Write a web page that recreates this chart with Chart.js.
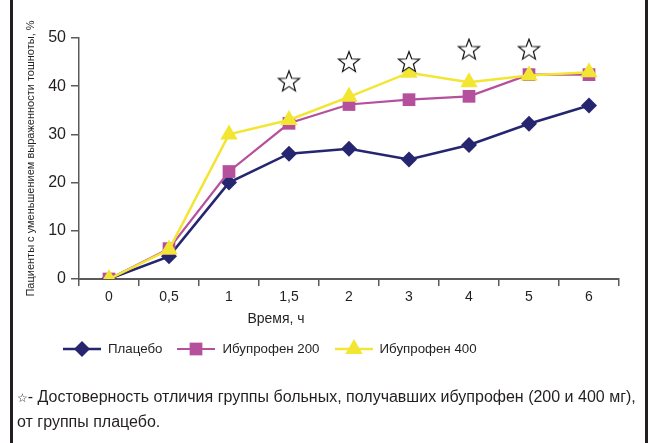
<!DOCTYPE html>
<html>
<head>
<meta charset="utf-8">
<script src="https://cdn.jsdelivr.net/npm/chart.js@4/dist/chart.umd.min.js"></script>
<style>
	body { margin: 0; background: #fff; }
	#wrap { position: relative; width: 649px; height: 443px; background: #fff; font-family: "Liberation Sans", Arial, sans-serif; color: #231f20; }
	.frame { position: absolute; top: 0; bottom: 0; width: 3px; background: #231f20; }
	#xtitle { position: absolute; left: 226px; width: 100px; top: 310px; text-align: center; font-size: 14px; }
	#legend { position: absolute; left: 63px; top: 337px; display: flex; align-items: center; font-size: 13.3px; }
	#legend .item { display: flex; align-items: center; margin-right: 15px; }
	#legend canvas { margin-right: 7px; }
	#note { position: absolute; left: 17px; top: 385px; font-size: 16px; line-height: 23px; }
	#note .star { font-size: 12px; font-family: "DejaVu Sans", sans-serif; }
</style>
</head>
<body>
<div id="wrap">
	<canvas id="chart"></canvas>
	<div class="frame" style="left:10px"></div>
	<div class="frame" style="left:645px"></div>
	<div id="xtitle">Время, ч</div>
	<div id="legend"></div>
	<div id="note"><span class="star">☆</span>- Достоверность отличия группы больных, получавших ибупрофен (200 и 400 мг),<br>от группы плацебо.</div>
</div>
<script>
const TIME_LABELS = ['0', '0,5', '1', '1,5', '2', '3', '4', '5', '6']

const PLACEBO = [0, 4.7, 20, 26, 27, 24.8, 27.8, 32.2, 36]
const IBUPROFEN_200 = [0, 6.3, 22.3, 32.3, 36.2, 37.2, 37.9, 42.4, 42.4]
const IBUPROFEN_400 = [0, 6.1, 30, 33, 37.8, 42.8, 40.8, 42.2, 42.9]
// stars: significant difference vs placebo
const SIGNIFICANT = [null, null, null, 41, 45, 45, 47.6, 47.6, null]

const SERIES_NAMES = ['Плацебо', 'Ибупрофен 200', 'Ибупрофен 400']
const Y_TITLE = 'Пациенты с уменьшением выраженности тошноты, %'

const FONT = '"Liberation Sans", Arial, sans-serif'
const TEXT = '#231f20'
const AXIS = '#5a5a5a'

// outline star used as point style
function makeStar() {
	const c = document.createElement('canvas')
	c.width = 26
	c.height = 26
	const ctx = c.getContext('2d')
	ctx.beginPath()
	for (let i = 0; i < 10; i++) {
		const r = i % 2 === 0 ? 11 : 4.6
		const a = -Math.PI / 2 + i * Math.PI / 5
		const x = 13 + r * Math.cos(a)
		const y = 13.5 + r * Math.sin(a)
		if (i === 0) ctx.moveTo(x, y)
		else ctx.lineTo(x, y)
	}
	ctx.closePath()
	ctx.fillStyle = '#fff'
	ctx.fill()
	ctx.lineWidth = 1.2
	ctx.strokeStyle = '#111'
	ctx.stroke()
	return c
}

const datasets = [
	{
		label: SERIES_NAMES[2],
		data: IBUPROFEN_400,
		borderColor: '#f2e633',
		backgroundColor: '#f2e633',
		borderWidth: 2.5,
		pointStyle: 'triangle',
		pointRadius: 10,
		pointBorderWidth: 0,
		order: 1,
	},
	{
		label: SERIES_NAMES[1],
		data: IBUPROFEN_200,
		borderColor: '#b5509d',
		backgroundColor: '#b5509d',
		borderWidth: 2.2,
		pointStyle: 'rect',
		pointRadius: 9,
		pointBorderWidth: 0,
		order: 2,
	},
	{
		label: SERIES_NAMES[0],
		data: PLACEBO,
		borderColor: '#262670',
		backgroundColor: '#262670',
		borderWidth: 2.5,
		pointStyle: 'rectRot',
		pointRadius: 8,
		pointBorderWidth: 0,
		order: 3,
	},
	{
		label: 'stars',
		data: SIGNIFICANT,
		showLine: false,
		pointStyle: makeStar(),
		order: 0,
	},
]

const chart = new Chart(document.getElementById('chart'), {
	type: 'line',
	data: { labels: TIME_LABELS, datasets: datasets },
	options: {
		responsive: true,
		maintainAspectRatio: false,
		animation: false,
		layout: { padding: { left: 14, top: 38, right: 30, bottom: 134 } },
		plugins: {
			legend: { display: false },
			tooltip: { enabled: false },
		},
		scales: {
			x: {
				offset: true,
				grid: { offset: true, drawOnChartArea: false, color: AXIS, lineWidth: 1.5, tickLength: 7 },
				border: { color: AXIS, width: 2 },
				ticks: { color: TEXT, font: { family: FONT, size: 14 }, padding: 3, maxRotation: 0 },
				afterFit: (s) => { s.height = 30 },
			},
			y: {
				min: 0,
				max: 50,
				ticks: { stepSize: 10, color: TEXT, font: { family: FONT, size: 16 }, padding: 5 },
				grid: { drawOnChartArea: false, color: AXIS, lineWidth: 1.5, tickLength: 8 },
				border: { color: AXIS, width: 1.5 },
				title: { display: true, text: Y_TITLE, color: TEXT, font: { family: FONT, size: 11 }, padding: { top: 10, bottom: 0 } },
				afterFit: (s) => { s.width = 65 },
			},
		},
	},
})

// legend: line with marker, built from the series styles
const legendEl = document.getElementById('legend')
const order = [2, 1, 0]
order.forEach((i) => {
	const ds = datasets[i]
	const item = document.createElement('div')
	item.className = 'item'
	const c = document.createElement('canvas')
	c.width = 38
	c.height = 22
	const ctx = c.getContext('2d')
	ctx.strokeStyle = ds.borderColor
	ctx.lineWidth = ds.borderWidth
	ctx.beginPath()
	ctx.moveTo(0, 12)
	ctx.lineTo(38, 12)
	ctx.stroke()
	ctx.fillStyle = ds.backgroundColor
	Chart.helpers.drawPoint(ctx, { pointStyle: ds.pointStyle, radius: ds.pointRadius, rotation: 0, borderWidth: 0 }, 19, 12)
	const t = document.createElement('span')
	t.textContent = ds.label
	item.appendChild(c)
	item.appendChild(t)
	legendEl.appendChild(item)
})
</script>
</body>
</html>
